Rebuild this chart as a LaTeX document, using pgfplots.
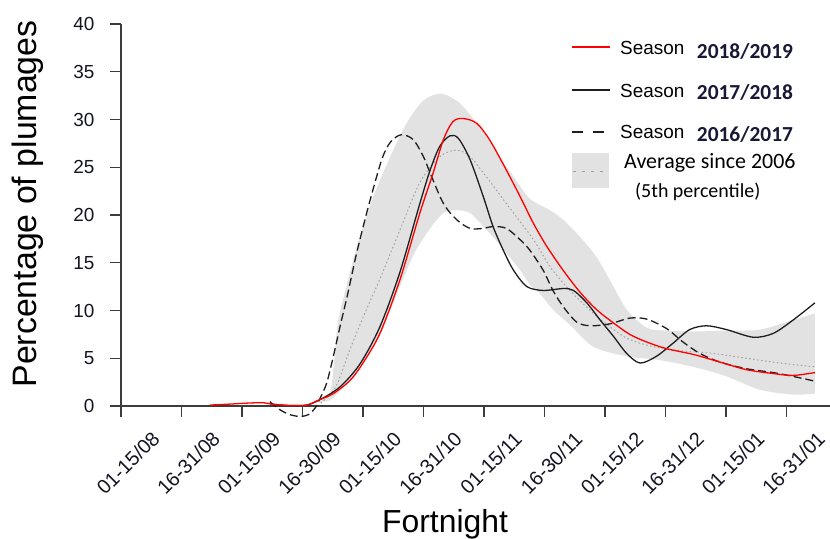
\documentclass[border=0pt]{standalone}
\usepackage{pgfplots}
\pgfplotsset{compat=1.18}
\usepgfplotslibrary{fillbetween}
\usepackage{fontspec}
\setmainfont{Liberation Sans}
\newfontfamily\calfont{Carlito}
\definecolor{band}{RGB}{226,226,226}
\definecolor{axgray}{RGB}{60,60,60}
\definecolor{linek}{RGB}{30,30,30}
\definecolor{dotg}{RGB}{160,160,160}
\definecolor{ticktxt}{RGB}{20,20,35}
\definecolor{yeartxt}{RGB}{25,25,55}

\pgfplotstableread{
x y
1.47 0.1
1.80 0.2
2.08 0.3
2.35 0.35
2.49 0.2
2.79 0.05
3.07 0.1
3.26 0.6
3.51 1.3
3.79 2.7
4.00 4.5
4.28 7.6
4.61 13.2
4.94 20.2
5.16 24.4
5.33 27.9
5.49 29.8
5.66 30.1
5.88 29.6
6.10 27.8
6.37 24.7
6.60 21.9
6.82 19.1
7.04 16.7
7.31 14.2
7.59 11.9
7.86 10.1
8.14 8.7
8.41 7.5
8.69 6.7
9.02 6.0
9.46 5.4
9.90 4.6
10.34 3.8
10.78 3.4
11.11 3.2
11.47 3.5
}\redtab

\pgfplotstableread{
x y
2.47 0.2
2.79 0.05
3.07 0.1
3.30 0.7
3.62 2.0
3.95 4.4
4.28 8.3
4.61 14.0
4.94 21.2
5.11 24.7
5.27 27.2
5.44 28.3
5.58 28.0
5.77 25.8
5.99 21.9
6.15 18.8
6.32 16.3
6.49 14.2
6.71 12.5
6.98 12.1
7.31 12.3
7.48 12.1
7.70 10.8
7.92 9.0
8.14 7.3
8.36 5.5
8.58 4.5
8.85 5.2
9.13 6.6
9.40 8.0
9.68 8.4
10.01 8.0
10.45 7.2
10.78 7.6
11.11 9.0
11.47 10.8
}\blacktab

\pgfplotstableread{
x y
2.46 0.45
2.63 -0.4
2.79 -0.9
2.96 -1.1
3.10 -0.9
3.21 -0.2
3.29 0.8
3.40 2.4
3.51 5.2
3.62 8.3
3.75 11.8
3.88 15.6
4.00 18.7
4.12 21.6
4.31 25.8
4.45 27.6
4.63 28.4
4.83 27.9
5.00 26.1
5.11 24.4
5.33 21.2
5.55 19.5
5.77 18.6
5.99 18.6
6.15 18.8
6.37 18.6
6.60 17.4
6.76 16.3
6.98 14.2
7.14 12.1
7.31 10.4
7.53 8.8
7.75 8.4
8.08 8.6
8.41 9.2
8.69 9.1
9.02 8.1
9.29 6.7
9.57 5.5
9.90 4.6
10.34 3.9
10.78 3.5
11.11 3.1
11.47 2.6
}\dashtab

\pgfplotstableread{
x y
3.30 0.3
3.55 2.0
3.79 6.0
4.05 10.0
4.28 13.3
4.61 18.4
4.94 23.4
5.27 26.1
5.55 26.8
5.77 26.1
6.04 24.0
6.37 21.2
6.82 17.4
7.09 14.6
7.42 12.1
7.81 9.7
8.08 8.3
8.36 7.1
8.74 6.3
9.24 5.8
9.79 5.5
10.34 5.0
10.89 4.5
11.47 4.1
}\avgtab

\pgfplotstableread{
x y
3.25 0.4
3.45 1.3
3.52 4.5
3.58 8.5
3.68 11.4
3.90 16.7
4.17 21.9
4.45 26.1
4.72 29.6
5.00 32.0
5.30 32.7
5.60 31.7
5.88 29.6
6.15 27.2
6.49 24.0
6.76 21.7
7.09 20.5
7.31 19.5
7.59 17.7
7.86 15.6
8.08 13.2
8.36 10.1
8.69 8.2
9.00 7.9
9.46 7.8
10.00 7.9
10.56 8.0
11.11 9.0
11.47 9.7
}\uptab

\pgfplotstableread{
x y
3.25 0.4
3.45 0.6
3.62 1.6
3.95 4.0
4.28 7.4
4.61 12.5
4.85 16.0
5.11 18.6
5.33 20.2
5.55 20.5
5.77 20.2
5.99 18.8
6.15 17.7
6.37 16.0
6.60 14.2
6.76 12.7
6.92 11.8
7.14 10.1
7.42 8.5
7.81 6.2
8.36 5.2
8.91 4.8
9.46 4.1
10.01 3.1
10.56 1.7
11.11 1.2
11.47 1.3
}\lotab

\begin{document}
\begin{tikzpicture}
\begin{axis}[
  at={(0,0)}, anchor=south west,
  width=709bp, height=382bp, scale only axis,
  xmin=0, xmax=11.72, ymin=0, ymax=40,
  clip=false,
  axis x line*=bottom, axis y line*=left,
  axis line style={axgray, line width=1.1bp},
  every tick/.style={axgray, line width=1.1bp},
  tick align=outside, major tick length=11bp,
  xtick={0,...,11},
  xticklabels={01-15/08,16-31/08,01-15/09,16-30/09,01-15/10,16-31/10,01-15/11,16-30/11,01-15/12,16-31/12,01-15/01,16-31/01},
  ytick={0,5,...,40},
  /pgf/number format/assume math mode=true,
  ticklabel style={font=\fontsize{19}{21}\selectfont, text=ticktxt},
  xticklabel style={font=\fontsize{20}{22}\selectfont, xshift=7bp, yshift=-46bp, rotate=45, anchor=center},
  yticklabel style={anchor=east, xshift=-12bp},
  xlabel={Fortnight}, ylabel={Percentage of plumages},
  label style={text=black},
  xlabel style={font=\fontsize{32}{36}\selectfont, at={(axis description cs:0.457,-0.31)}, anchor=center},
  ylabel style={font=\fontsize{34}{38}\selectfont, at={(axis description cs:-0.1312,0.529)}, anchor=center},
]
\addplot[name path=up, draw=none, smooth] table {\uptab};
\addplot[name path=lo, draw=none, smooth] table {\lotab};
\addplot[band, draw=none] fill between[of=up and lo];
\addplot[dotg, line width=1bp, dash pattern=on 1.5bp off 2.5bp, smooth] table {\avgtab};
\addplot[linek, line width=1.3bp, dash pattern=on 8bp off 4bp, smooth] table {\dashtab};
\addplot[linek, line width=1.3bp, smooth] table {\blacktab};
\addplot[red, line width=1.3bp, smooth] table {\redtab};
\end{axis}
% legend
\draw[red, line width=1.6bp] (450.7bp,358.7bp) -- (489bp,358.7bp);
\node[anchor=base west, inner sep=0pt, font=\fontsize{19}{21}\selectfont] at (499bp,351bp) {Season};
\node[anchor=base west, inner sep=0pt, font=\calfont\bfseries\fontsize{21.5}{24}\selectfont, text=yeartxt] at (575.7bp,347.7bp) {2018/2019};
\draw[linek, line width=1.6bp] (450.7bp,316bp) -- (489bp,316bp);
\node[anchor=base west, inner sep=0pt, font=\fontsize{19}{21}\selectfont] at (499bp,308.7bp) {Season};
\node[anchor=base west, inner sep=0pt, font=\calfont\bfseries\fontsize{21.5}{24}\selectfont, text=yeartxt] at (575.7bp,306bp) {2017/2018};
\draw[linek, line width=1.6bp] (450.7bp,273.7bp) -- (462.3bp,273.7bp);
\draw[linek, line width=1.6bp] (471.7bp,273.7bp) -- (483bp,273.7bp);
\node[anchor=base west, inner sep=0pt, font=\fontsize{19}{21}\selectfont] at (499bp,267.7bp) {Season};
\node[anchor=base west, inner sep=0pt, font=\calfont\bfseries\fontsize{21.5}{24}\selectfont, text=yeartxt] at (575.7bp,264.3bp) {2016/2017};
\fill[band] (450.7bp,217.7bp) rectangle (488bp,252.7bp);
\draw[dotg, line width=1bp, dash pattern=on 3bp off 6bp] (452bp,234.3bp) -- (488bp,234.3bp);
\node[anchor=base west, inner sep=0pt, font=\calfont\fontsize{22}{24}\selectfont] at (503bp,237bp) {Average since 2006};
\node[anchor=base west, inner sep=0pt, font=\calfont\fontsize{20}{22}\selectfont] at (514bp,208.3bp) {(5th percentile)};
\pgfresetboundingbox
\path[use as bounding box] (-121bp,-133bp) rectangle (709bp,406bp);
\end{tikzpicture}
\end{document}
